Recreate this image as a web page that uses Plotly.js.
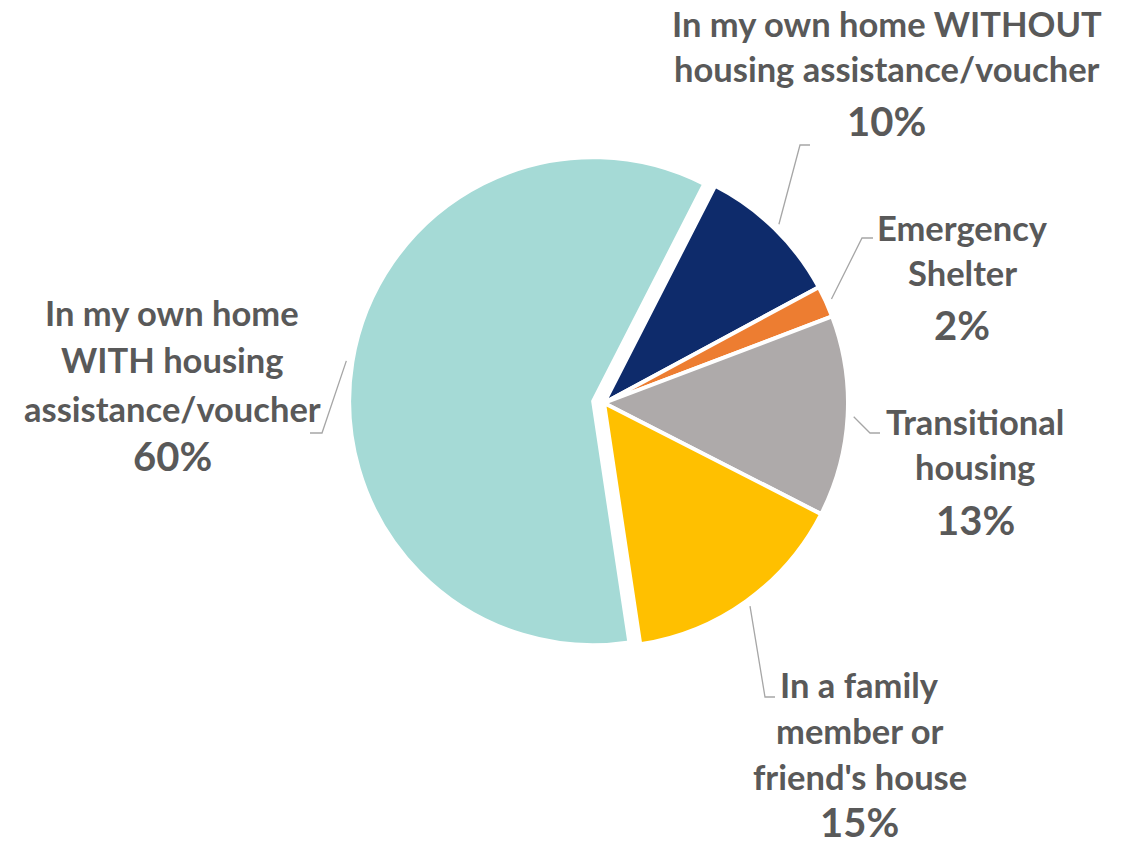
<!DOCTYPE html>
<html><head><meta charset="utf-8">
<script src="https://cdn.plot.ly/plotly-3.0.1.min.js"></script>
<style>html,body{margin:0;padding:0;background:#fff;}</style>
</head><body>
<div id="chart" style="width:1127px;height:846px;"></div>
<script>
// ---- data ----
const categories = [
  "In my own home WITHOUT housing assistance/voucher",
  "Emergency Shelter",
  "Transitional housing",
  "In a family member or friend's house",
  "In my own home WITH housing assistance/voucher"
];
const labelLines = [
  ["In my own home WITHOUT", "housing assistance/voucher"],
  ["Emergency", "Shelter"],
  ["Transitional", "housing"],
  ["In a family", "member or", "friend's house"],
  ["In my own home", "WITH housing", "assistance/voucher"]
];
const values = [9.6, 2.1, 13.3, 15.1, 59.9];
const colors = ["#0E2B6B", "#ED7D31", "#AEAAAA", "#FFC000", "#A5DAD6"];
const pulls = [0, 0, 0, 0, 0.045];

// ---- layout constants (pixels) ----
const W = 1127, H = 846;
const CX = 604, CY = 403, R = 244;
const ROT = 27.1;
const TXT = "#595959";
const labelPos = [
  {x: 887, lines: [23.5, 69], pct: 121, elbow: [800, 145], end: [810, 145]},
  {x: 962, lines: [227, 272], pct: 325, elbow: [862, 238], end: [873, 238]},
  {x: 975, lines: [422, 467], pct: 520, elbow: [870, 433], end: [880, 433]},
  {x: 860, lines: [684, 730, 776], pct: 822, elbow: [765, 697], end: [775, 697]},
  {x: 172, lines: [312, 360, 408], pct: 456, elbow: [322, 433], end: [310, 433]}
];

const px = x => x / W;
const py = y => 1 - y / H;
const maxPull = Math.max(...pulls);
const half = R * (1 + maxPull);

const trace = {
  type: "pie",
  labels: categories,
  values: values,
  sort: false,
  direction: "clockwise",
  rotation: ROT,
  pull: pulls,
  textinfo: "none",
  hoverinfo: "label+percent",
  marker: {colors: colors, line: {color: "#FFFFFF", width: 4}},
  domain: {x: [px(CX - half), px(CX + half)], y: [py(CY + half), py(CY - half)]}
};

const total = values.reduce((a, b) => a + b, 0);
const annotations = [];
const shapes = [];
let cum = 0;
values.forEach((v, i) => {
  const a0 = ROT + cum / total * 360;
  cum += v;
  const a1 = ROT + cum / total * 360;
  const mid = (a0 + a1) / 2 * Math.PI / 180;
  const off = pulls[i] * R;
  const rs = R * 1.025;
  const sx = CX + (off + rs) * Math.sin(mid);
  const sy = CY - (off + rs) * Math.cos(mid);
  const L = labelPos[i];
  shapes.push({
    type: "path", xref: "paper", yref: "paper",
    path: `M ${px(sx)} ${py(sy)} L ${px(L.elbow[0])} ${py(L.elbow[1])} L ${px(L.end[0])} ${py(L.end[1])}`,
    line: {color: "#A6A6A6", width: 1.3}
  });
  labelLines[i].forEach((t, k) => {
    annotations.push({
      xref: "paper", yref: "paper", x: px(L.x), y: py(L.lines[k]),
      xanchor: "center", yanchor: "middle", showarrow: false, text: t,
      font: {family: "Lato", size: 34.5, color: TXT, weight: 700}
    });
  });
  annotations.push({
    xref: "paper", yref: "paper", x: px(L.x), y: py(L.pct),
    xanchor: "center", yanchor: "middle", showarrow: false,
    text: Math.round(v / total * 100) + "%",
    font: {family: "Lato", size: 40, color: TXT, weight: 700}
  });
});

const layout = {
  width: W, height: H,
  margin: {l: 0, r: 0, t: 0, b: 0},
  paper_bgcolor: "#FFFFFF",
  showlegend: false,
  annotations: annotations,
  shapes: shapes
};
Plotly.newPlot("chart", [trace], layout, {displayModeBar: false, staticPlot: true});
</script>
</body></html>
